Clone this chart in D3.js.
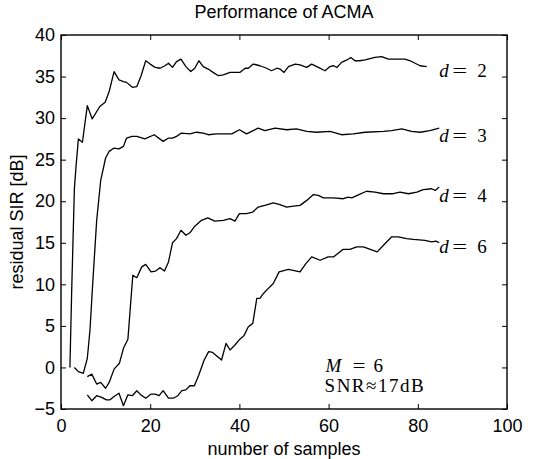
<!DOCTYPE html>
<html>
<head>
<meta charset="utf-8">
<script src="https://cdn.jsdelivr.net/npm/d3@7"></script>
<style>
  body { margin: 0; background: #fff; }
  svg text { fill: #000; }
</style>
</head>
<body>
<div id="chart"></div>
<script>
// residual SIR vs number of samples, one series per d
var seriesNames = ["2", "3", "4", "6"];
var d2 = [[2,0],[2.4,9.3],[3,21.5],[3.4,24.4],[3.9,27.5],[4.8,27.1],[5.9,31.5],[7,29.9],[8.7,31.4],[9.9,31.9],[10.8,33.2],[11.9,35.6],[13,34.6],[14,34.4],[14.7,34.3],[16,33.7],[17,33.8],[17.9,35.0],[19,36.9],[20,36.5],[21.1,36.1],[22.2,36.0],[23.3,36.3],[24.1,36.6],[25,36.1],[25.9,36.8],[26.9,37.1],[28,36.2],[29.1,35.6],[30,36.0],[30.9,36.9],[31.9,36.2],[33,35.9],[34.1,35.5],[35.3,35.1],[36.4,35.2],[37.9,35.5],[40.1,35.5],[41.3,36.0],[42,36.0],[43.1,36.5],[44.6,36.3],[46.1,36.0],[47.2,35.7],[48.4,36.0],[49.1,35.9],[50,35.5],[51,36.2],[52.5,36.5],[53.6,36.4],[55.1,36.1],[56.2,36.5],[57.7,36.1],[59.2,35.7],[60.3,36.2],[61.1,36.3],[61.9,36.1],[62.9,36.7],[64.1,37.0],[65,37.3],[65.9,36.9],[67,36.9],[68.2,37.0],[70.4,37.3],[71.9,37.4],[73.4,37.1],[75.3,37.1],[77.1,37.1],[78.3,36.9],[79.4,36.6],[80.5,36.3],[82,36.2]];
var d3s = [[3,0],[3.9,-0.5],[5,-0.7],[5.9,1.1],[6.5,4.5],[7.1,10],[8,17.7],[8.9,22.5],[10,25.2],[10.8,26.0],[11.9,26.4],[13,26.3],[14,26.6],[14.7,27.6],[15.9,27.8],[17,27.8],[18.8,27.5],[20.9,28.0],[22.9,27.2],[24.1,27.6],[25,27.6],[25.9,27.8],[27,28.2],[28.9,28.1],[30.4,28.3],[31.9,28.2],[33,28.0],[34.9,28.1],[38.3,28.1],[40,28.6],[41.6,28.1],[44.2,28.8],[45.7,28.5],[48,28.8],[50.6,28.6],[52.8,28.7],[55.1,28.4],[57.3,28.3],[60.3,28.4],[62.9,28.0],[65.5,28.1],[68.2,28.3],[72.3,28.4],[74.1,28.5],[76.4,28.7],[78.6,28.4],[80.5,28.3],[82.7,28.5],[84.8,28.8]];
var d4 = [[5.9,-1.1],[6.9,-0.8],[8,-2.0],[8.9,-1.8],[10,-2.5],[10.8,-1.8],[11.9,-0.2],[13.1,0.5],[14,2.3],[15,3.4],[15.5,6.9],[16.1,11.1],[17,10.8],[18.1,12.1],[19,12.4],[20.2,11.5],[21.2,11.6],[22.2,12.0],[23.2,11.6],[24.1,12.7],[25,15.0],[25.9,15.5],[26.9,16.5],[28,15.9],[28.9,16.2],[30,17.0],[31.5,17.7],[32.9,18.0],[34.5,17.6],[36.4,17.7],[37.9,17.9],[39,17.6],[40,18.5],[41.6,18.5],[43,18.7],[44.2,19.3],[45.7,19.5],[47.6,19.8],[49.1,19.6],[50.6,19.3],[52.1,19.4],[53.6,19.5],[55.1,20.1],[56.6,20.8],[57.7,20.7],[58.8,20.4],[61.1,20.4],[63.3,20.3],[64.4,20.5],[65.2,20.4],[66.8,20.8],[68.5,21.2],[70.4,21.1],[72.3,20.9],[74.5,20.9],[76,21.1],[77.9,20.9],[79.8,21.1],[81.2,21.4],[83.1,21.5],[83.9,21.3],[84.8,21.7]];
var d6 = [[5.9,-3.3],[6.9,-4.0],[8,-3.4],[9.1,-3.6],[10.2,-3.9],[11,-3.9],[11.9,-3.5],[13,-3.1],[14,-4.6],[15,-3.3],[16,-3.4],[17,-2.8],[17.9,-3.3],[19,-3.7],[20.2,-3.2],[21.1,-3.2],[22,-3.4],[22.9,-2.8],[24.1,-3.7],[25.2,-3.7],[26.2,-3.4],[27.1,-2.8],[28,-2.7],[28.9,-2.2],[29.9,-2.2],[30.9,-0.9],[32.1,0.9],[33.1,1.9],[34,1.8],[36,0.9],[37,2.9],[37.9,2.1],[39,2.7],[40.1,3.4],[41,3.8],[42,4.9],[43,5.3],[43.9,8.3],[44.6,8.3],[45.4,8.9],[46.1,9.3],[47.6,10.1],[48.9,11.5],[51,11.8],[53.6,11.5],[54.9,12.5],[56.2,13.3],[58.1,12.9],[59.9,13.3],[61.1,13.3],[63.2,14.2],[64.8,14.2],[66.3,14.5],[67.8,14.5],[70.9,13.9],[72.3,14.7],[74.1,15.7],[75.6,15.7],[77.5,15.5],[79,15.4],[81.6,15.3],[83.1,15.1],[84.1,15.2],[84.8,15.0]];
var labelY = [35.5, 27.7, 20.5, 14.4];
var xTicks = [0, 20, 40, 60, 80, 100];
var yTicks = [-5, 0, 5, 10, 15, 20, 25, 30, 35, 40];

var allSeries = [d2, d3s, d4, d6];

var width = 533, height = 459;
var margin = {top: 35, right: 26, bottom: 50, left: 61};

var svg = d3.select("#chart").append("svg")
    .attr("width", width).attr("height", height);

var x = d3.scaleLinear().domain([0, 100]).range([margin.left, width - margin.right]);
var y = d3.scaleLinear().domain([-5, 40]).range([height - margin.bottom, margin.top]);

var sans = "'Liberation Sans', Arial, sans-serif";
var serif = "'Liberation Serif', 'Times New Roman', serif";

// axes, ticks inward on all four sides
function styleAxis(g) {
    g.select(".domain").remove();
    g.selectAll(".tick line").attr("stroke", "#000").attr("stroke-width", 1);
    g.selectAll(".tick text").attr("font-family", sans).attr("font-size", 18).attr("fill", "#000");
}
svg.append("g").attr("transform", "translate(0," + y(-5) + ")")
    .call(d3.axisBottom(x).tickValues(xTicks).tickSize(-5).tickPadding(10))
    .call(styleAxis);
svg.append("g").attr("transform", "translate(0," + y(40) + ")")
    .call(d3.axisTop(x).tickValues(xTicks).tickSize(-5).tickFormat(""))
    .call(styleAxis);
svg.append("g").attr("transform", "translate(" + x(0) + ",0)")
    .call(d3.axisLeft(y).tickValues(yTicks).tickSize(-5).tickPadding(6))
    .call(styleAxis);
svg.append("g").attr("transform", "translate(" + x(100) + ",0)")
    .call(d3.axisRight(y).tickValues(yTicks).tickSize(-5).tickFormat(""))
    .call(styleAxis);

svg.append("rect")
    .attr("x", x(0)).attr("y", y(40))
    .attr("width", x(100) - x(0)).attr("height", y(-5) - y(40))
    .attr("fill", "none").attr("stroke", "#000").attr("stroke-width", 1.4);

var line = d3.line().x(function(d) { return x(d[0]); }).y(function(d) { return y(d[1]); });

svg.selectAll(".curve").data(allSeries).enter().append("path")
    .attr("class", "curve")
    .attr("d", line)
    .attr("fill", "none")
    .attr("stroke", "#000")
    .attr("stroke-width", 1.3)
    .attr("stroke-linejoin", "round");

// d = ... labels (wide "=" like the TeX one)
var lx = x(84.8);
var lab = svg.selectAll(".dlab").data(seriesNames).enter().append("text")
    .attr("class", "dlab")
    .attr("y", function(d, i) { return y(labelY[i]) + 5; })
    .attr("font-family", serif).attr("font-size", 19);
lab.append("tspan").attr("x", lx).attr("font-style", "italic").text("d");
lab.append("tspan").attr("x", lx + 13).attr("textLength", 15)
    .attr("lengthAdjust", "spacingAndGlyphs").text("=");
lab.append("tspan").attr("x", lx + 38).text(function(d) { return d; });

var mx = x(59.3);
var note = svg.append("text").attr("y", y(0) + 4.5)
    .attr("font-family", serif).attr("font-size", 19);
note.append("tspan").attr("x", mx).attr("font-style", "italic").text("M");
note.append("tspan").attr("x", mx + 27).attr("textLength", 13)
    .attr("lengthAdjust", "spacingAndGlyphs").text("=");
note.append("tspan").attr("x", mx + 48).text("6");
svg.append("text").attr("x", x(59.1)).attr("y", y(-3.0))
    .attr("font-family", serif).attr("font-size", 19)
    .attr("letter-spacing", 1.5)
    .text("SNR\u224817dB");

// title and axis labels
svg.append("text").attr("x", (x(0) + x(100)) / 2).attr("y", 18)
    .attr("text-anchor", "middle").attr("font-family", sans).attr("font-size", 18)
    .text("Performance of ACMA");
svg.append("text").attr("x", (x(0) + x(100)) / 2).attr("y", 455)
    .attr("text-anchor", "middle").attr("font-family", sans).attr("font-size", 18)
    .text("number of samples");
svg.append("text")
    .attr("transform", "translate(23," + ((y(-5) + y(40)) / 2) + ") rotate(-90)")
    .attr("text-anchor", "middle").attr("font-family", sans).attr("font-size", 18)
    .text("residual SIR [dB]");
</script>
</body>
</html>
